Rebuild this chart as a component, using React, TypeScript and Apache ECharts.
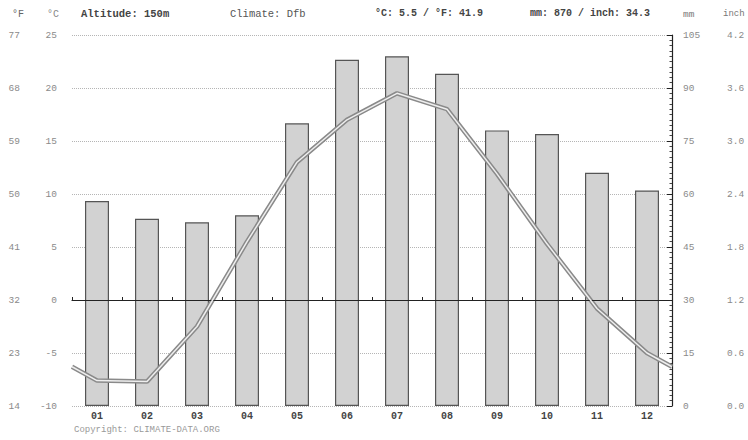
import React, { useEffect, useRef } from "react";
import * as echarts from "echarts";

const months = ["01", "02", "03", "04", "05", "06", "07", "08", "09", "10", "11", "12"];
const precipMm = [58, 53, 52, 54, 80, 98, 99, 94, 78, 77, 66, 61];
const tempC = [-7.6, -7.7, -2.5, 5.5, 13.0, 17.0, 19.5, 18.0, 11.9, 5.3, -0.8, -5.0];
const headerTexts = ["Altitude: 150m", "Climate: Dfb", "°C: 5.5 / °F: 41.9", "mm: 870 / inch: 34.3"];
const copyright = "Copyright: CLIMATE-DATA.ORG";

const FONT = "Liberation Mono";

export default function App() {
  const ref = useRef<HTMLDivElement>(null);
  useEffect(() => {
    if (!ref.current) return;
    const chart = echarts.init(ref.current, null, { renderer: "svg" });
    const edge = (tempC[0] + tempC[11]) / 2;
    const lineData: number[][] = [[0, edge]];
    tempC.forEach((t, i) => lineData.push([i + 0.5, t]));
    lineData.push([12, edge]);

    const labelStyle = { color: "#8a8a8a", fontSize: 9.5, fontFamily: FONT };
    chart.setOption({
      animation: false,
      backgroundColor: "#ffffff",
      grid: { left: 72, right: 76, top: 35, bottom: 34 },
      xAxis: [
        {
          type: "category",
          data: months,
          position: "bottom",
          axisLine: { show: true, lineStyle: { color: "#222", width: 1.2 } },
          axisTick: { show: true, inside: true, length: 3, lineStyle: { color: "#222" } },
          axisLabel: { color: "#444", fontSize: 10, fontWeight: "bold", fontFamily: FONT, margin: 5, lineHeight: 10 },
          splitLine: { show: false },
        },
        { type: "value", min: 0, max: 12, show: false },
      ],
      yAxis: [
        {
          type: "value",
          min: -10,
          max: 25,
          interval: 5,
          position: "left",
          axisLine: { show: false },
          axisTick: { show: false },
          axisLabel: { ...labelStyle, margin: 15 },
          splitLine: { show: true, lineStyle: { type: "dotted", color: "#b5b5b5", width: 1 } },
        },
        {
          type: "value",
          min: 14,
          max: 77,
          interval: 9,
          position: "left",
          offset: 50,
          axisLine: { show: false },
          axisTick: { show: false },
          axisLabel: { ...labelStyle, margin: 2 },
          splitLine: { show: false },
        },
        {
          type: "value",
          min: 0,
          max: 105,
          interval: 15,
          position: "right",
          axisLine: { show: true, lineStyle: { color: "#222", width: 1.2 } },
          axisTick: { show: true, inside: true, length: 5, lineStyle: { color: "#222" } },
          minorTick: { show: true, splitNumber: 10, length: 2.5, lineStyle: { color: "#444" } },
          axisLabel: { ...labelStyle, margin: 11 },
          splitLine: { show: false },
        },
        {
          type: "value",
          min: 0,
          max: 4.2,
          interval: 0.6,
          position: "right",
          offset: 45,
          axisLine: { show: false },
          axisTick: { show: false },
          axisLabel: { ...labelStyle, margin: 10, formatter: (v: number) => v.toFixed(1) },
          splitLine: { show: false },
        },
      ],
      series: [
        {
          type: "bar",
          xAxisIndex: 0,
          yAxisIndex: 2,
          data: precipMm,
          barWidth: 24,
          itemStyle: { color: "#d2d2d2", borderColor: "#555", borderWidth: 1.2 },
          z: 2,
        },
        {
          type: "line",
          xAxisIndex: 1,
          yAxisIndex: 0,
          data: lineData,
          symbol: "none",
          lineStyle: { color: "#8a8a8a", width: 4.5 },
          z: 4,
          markLine: {
            silent: true,
            symbol: "none",
            label: { show: false },
            lineStyle: { color: "#222", width: 1.2, type: "solid" },
            data: [{ yAxis: 0 }],
          },
        },
        {
          type: "line",
          xAxisIndex: 1,
          yAxisIndex: 0,
          data: lineData,
          symbol: "none",
          lineStyle: { color: "#eeeeee", width: 1.5 },
          z: 5,
        },
      ],
      graphic: [
        { type: "text", left: 12, top: 9, style: { text: "°F", fill: "#666", font: `10px ${FONT}` } },
        { type: "text", left: 47, top: 9, style: { text: "°C", fill: "#888", font: `10px ${FONT}` } },
        { type: "text", left: 81, top: 8, style: { text: headerTexts[0], fill: "#444", font: `bold 10.5px ${FONT}` } },
        { type: "text", left: 230, top: 8, style: { text: headerTexts[1], fill: "#555", font: `10.5px ${FONT}` } },
        { type: "text", left: 375, top: 8, style: { text: headerTexts[2], fill: "#444", font: `bold 10px ${FONT}` } },
        { type: "text", left: 530, top: 8, style: { text: headerTexts[3], fill: "#444", font: `bold 10px ${FONT}` } },
        { type: "text", left: 683, top: 9, style: { text: "mm", fill: "#777", font: `9.5px ${FONT}` } },
        { type: "text", left: 723, top: 9, style: { text: "inch", fill: "#777", font: `9px ${FONT}` } },
        { type: "text", left: 74, top: 425, style: { text: copyright, fill: "#999", font: `9px ${FONT}` } },
      ],
    });
    return () => chart.dispose();
  }, []);
  return (
    <div
      ref={ref}
      style={{ position: "fixed", left: 0, top: 0, width: 748, height: 440, background: "#fff" }}
    />
  );
}
